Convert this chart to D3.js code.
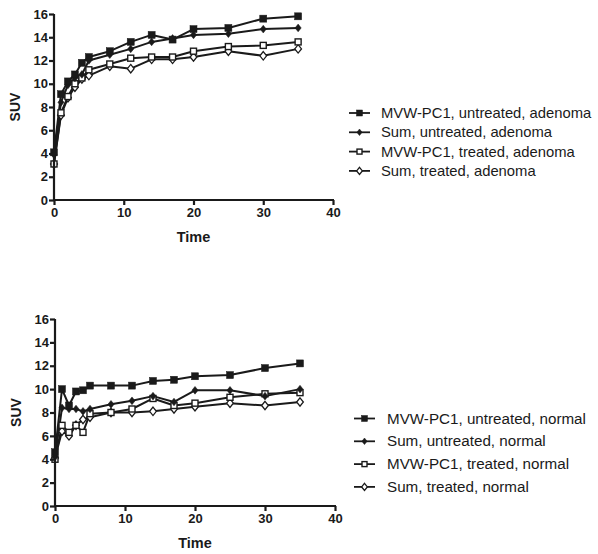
<!DOCTYPE html>
<html>
<head>
<meta charset="utf-8">
<script src="https://cdn.jsdelivr.net/npm/d3@7"></script>
<style>
  html, body { margin: 0; padding: 0; background: #fff; }
  svg { display: block; }
  text { font-family: Arial, "Liberation Sans", sans-serif; fill: #1a1a1a; }
</style>
</head>
<body>
<svg id="chart" width="598" height="554"></svg>
<script>
// Sampling times (min)
const times = [0, 1, 2, 3, 4, 5, 8, 11, 14, 17, 20, 25, 30, 35];
const xTicks = [0, 10, 20, 30, 40];
const yTicks = [0, 2, 4, 6, 8, 10, 12, 14, 16];

// Adenoma SUV curves
const adenomaMvwUntreated = [4.1, 9.1, 10.2, 10.8, 11.8, 12.3, 12.8, 13.6, 14.2, 13.8, 14.7, 14.8, 15.6, 15.8];
const adenomaSumUntreated = [3.9, 8.4, 9.9, 10.5, 10.8, 12.0, 12.5, 13.0, 13.6, 13.9, 14.2, 14.3, 14.7, 14.8];
const adenomaMvwTreated   = [3.1, 7.5, 8.9, 10.0, 10.5, 11.2, 11.7, 12.2, 12.3, 12.3, 12.8, 13.2, 13.3, 13.6];
const adenomaSumTreated   = [3.1, 7.3, 8.8, 9.7, 10.4, 10.7, 11.5, 11.3, 12.1, 12.1, 12.3, 12.8, 12.4, 13.0];

// Normal tissue SUV curves
const normalMvwUntreated = [4.6, 10.0, 8.6, 9.8, 9.9, 10.3, 10.3, 10.3, 10.7, 10.8, 11.1, 11.2, 11.8, 12.2];
const normalSumUntreated = [4.2, 8.4, 8.3, 8.3, 8.1, 8.3, 8.7, 9.0, 9.4, 8.9, 9.9, 9.9, 9.4, 10.0];
const normalMvwTreated   = [4.0, 6.9, 6.3, 6.9, 6.3, 7.9, 8.0, 8.3, 9.2, 8.6, 8.8, 9.3, 9.6, 9.7];
const normalSumTreated   = [4.1, 6.4, 6.0, 6.9, 7.4, 7.6, 8.0, 8.0, 8.1, 8.3, 8.5, 8.8, 8.6, 8.9];

const adenomaLabels = ["MVW-PC1, untreated, adenoma", "Sum, untreated, adenoma",
                       "MVW-PC1, treated, adenoma", "Sum, treated, adenoma"];
const normalLabels  = ["MVW-PC1, untreated, normal", "Sum, untreated, normal",
                       "MVW-PC1, treated, normal", "Sum, treated, normal"];

// marker style per series: shape + fill
const markerKinds = [
  { shape: "square", filled: true },
  { shape: "diamond", filled: true },
  { shape: "square", filled: false },
  { shape: "diamond", filled: false }
];

const svg = d3.select("#chart");
const INK = "#1a1a1a";

function marker(g, kind, x, y, size) {
  if (kind.shape === "square") {
    const s = kind.filled ? size : size - 1;
    g.append("rect")
      .attr("x", x - s / 2).attr("y", y - s / 2)
      .attr("width", s).attr("height", s)
      .attr("fill", kind.filled ? INK : "#fff")
      .attr("stroke", INK).attr("stroke-width", kind.filled ? 0.5 : 1.4);
  } else {
    const r = kind.filled ? size * 0.55 : size * 0.6;
    g.append("path")
      .attr("d", `M${x},${y - r}L${x + r * 0.8},${y}L${x},${y + r}L${x - r * 0.8},${y}Z`)
      .attr("fill", kind.filled ? INK : "#fff")
      .attr("stroke", INK).attr("stroke-width", kind.filled ? 0.5 : 1.3);
  }
}

function panel(opts) {
  const { x0, x1, yTop, yBottom, series, labels, legend } = opts;
  const g = svg.append("g");
  const x = d3.scaleLinear().domain([0, 40]).range([x0, x1]);
  const y = d3.scaleLinear().domain([0, 16]).range([yBottom, yTop]);

  // lines first, markers on top
  const line = d3.line().x((d, i) => x(times[i])).y(d => y(d));
  series.forEach(vals => {
    g.append("path").attr("d", line(vals))
      .attr("fill", "none").attr("stroke", INK).attr("stroke-width", 2)
      .attr("stroke-linejoin", "round");
  });
  // draw in reverse so the filled untreated markers sit on top
  series.slice().reverse().forEach((vals, ri) => {
    const k = markerKinds[series.length - 1 - ri];
    vals.forEach((v, i) => marker(g, k, x(times[i]), y(v), 7));
  });

  // axes
  const xAxis = d3.axisBottom(x).tickValues(xTicks).tickSize(5).tickPadding(3);
  const yAxis = d3.axisLeft(y).tickValues(yTicks).tickSize(5).tickPadding(1);
  const gx = g.append("g").attr("transform", `translate(0,${yBottom})`).call(xAxis);
  const gy = g.append("g").attr("transform", `translate(${x0},0)`).call(yAxis);
  [gx, gy].forEach(a => {
    a.select(".domain").attr("stroke", INK).attr("stroke-width", 2.2);
    a.selectAll(".tick line").attr("stroke", INK).attr("stroke-width", 2.2);
    a.selectAll(".tick text")
      .attr("font-family", "Arial, 'Liberation Sans', sans-serif")
      .attr("font-size", 13).attr("font-weight", "bold").attr("fill", INK);
  });
  gx.select(".domain").attr("d", `M${x0 - 1},0H${x1 + 1}`);
  gy.select(".domain").attr("d", `M0,${yTop}V${yBottom + 1}`);

  g.append("text").attr("x", (x0 + x1) / 2).attr("y", yBottom + 42)
    .attr("text-anchor", "middle").attr("font-size", 14.5).attr("font-weight", "bold")
    .text("Time");
  g.append("text")
    .attr("transform", `translate(${x0 - 34},${(yTop + yBottom) / 2}) rotate(-90)`)
    .attr("text-anchor", "middle").attr("font-size", 14).attr("font-weight", "bold")
    .text("SUV");

  // legend
  labels.forEach((lab, i) => {
    const ly = legend.y + i * legend.dy;
    g.append("line").attr("x1", legend.x).attr("x2", legend.x + 21)
      .attr("y1", ly).attr("y2", ly).attr("stroke", INK).attr("stroke-width", 1.8);
    marker(g, markerKinds[i], legend.x + 10.5, ly, 6);
    g.append("text").attr("x", legend.textX).attr("y", ly + 5)
      .attr("font-size", legend.fontSize).text(lab);
  });
}

panel({
  x0: 54, x1: 333, yTop: 14, yBottom: 200,
  series: [adenomaMvwUntreated, adenomaSumUntreated, adenomaMvwTreated, adenomaSumTreated],
  labels: adenomaLabels,
  legend: { x: 349, textX: 381, y: 113, dy: 19.3, fontSize: 14.8 }
});

panel({
  x0: 55, x1: 335, yTop: 319, yBottom: 506,
  series: [normalMvwUntreated, normalSumUntreated, normalMvwTreated, normalSumTreated],
  labels: normalLabels,
  legend: { x: 354, textX: 387, y: 418.5, dy: 22.8, fontSize: 15.2 }
});
</script>
</body>
</html>
